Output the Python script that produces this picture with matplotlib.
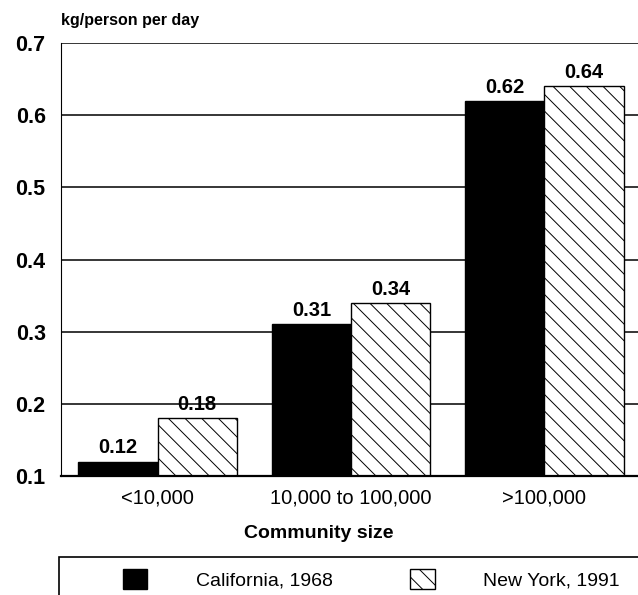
import numpy as np
import matplotlib
matplotlib.use("Agg")
import matplotlib.pyplot as plt
from matplotlib.patches import Rectangle

plt.rcParams['font.family'] = ['Liberation Sans', 'DejaVu Sans']
plt.rcParams['hatch.linewidth'] = 0.7

# data
categories = ["<10,000", "10,000 to 100,000", ">100,000"]
california_1968 = [0.12, 0.31, 0.62]
new_york_1991 = [0.18, 0.34, 0.64]
series_names = ["California, 1968", "New York, 1991"]
y_ticks = [0.1, 0.2, 0.3, 0.4, 0.5, 0.6, 0.7]

fig = plt.figure(figsize=(6.38, 5.95), dpi=100)
ax = fig.add_axes([61/638, 1 - 476/595, 580/638, 433/595])

x = np.arange(len(categories))
w = 0.41

# horizontal grid behind the bars
for yv in y_ticks[1:]:
    ax.axhline(yv, color="black", lw=1.1, zorder=0)

b1 = ax.bar(x - w/2, np.array(california_1968) - 0.1, w, bottom=0.1,
            color="black", edgecolor="black", lw=1, zorder=2, label=series_names[0])
b2 = ax.bar(x + w/2, np.array(new_york_1991) - 0.1, w, bottom=0.1,
            color="white", edgecolor="black", hatch="\\\\", lw=1, zorder=2,
            label=series_names[1])

# value labels above bars
for bars, vals in [(b1, california_1968), (b2, new_york_1991)]:
    ax.bar_label(bars, labels=[f"{v:.2f}" for v in vals], padding=3,
                 fontsize=14.5, fontweight="bold", zorder=3)

ax.set_xlim(-0.5, 2.5)
ax.set_ylim(0.1, 0.7)
ax.set_yticks(y_ticks)
ax.set_yticklabels([f"{v:.1f}" for v in y_ticks], fontsize=15.5, fontweight="bold")
ax.set_xticks(x)
ax.set_xticklabels(categories, fontsize=14.5)
ax.tick_params(axis="y", length=0, pad=11)
ax.tick_params(axis="x", length=0, pad=9)

for s in ["top", "right"]:
    ax.spines[s].set_visible(False)
ax.spines["left"].set_linewidth(0.8)
ax.spines["bottom"].set_linewidth(1.6)

fig.text(61/638, 1 - 20/595, "kg/person per day", fontsize=11.5, fontweight="bold",
         ha="left", va="center")
fig.text(0.5, 1 - 533/595, "Community size", fontsize=14, fontweight="bold",
         ha="center", va="center")

# legend box at the bottom
fig.patches.append(Rectangle((59/638, -0.1), 1.0, 0.1 + (595 - 557)/595,
                             transform=fig.transFigure, fill=False,
                             edgecolor="black", lw=1.2))
fig.legend(handles=[b1, b2], labels=series_names, loc="center left",
           bbox_to_anchor=(113/638, 1 - 579/595), ncol=2, frameon=False,
           fontsize=14, borderpad=0, handlelength=1.25, handleheight=1.25,
           handletextpad=2.5, columnspacing=4.0)

fig.savefig("out.png", dpi=100)
